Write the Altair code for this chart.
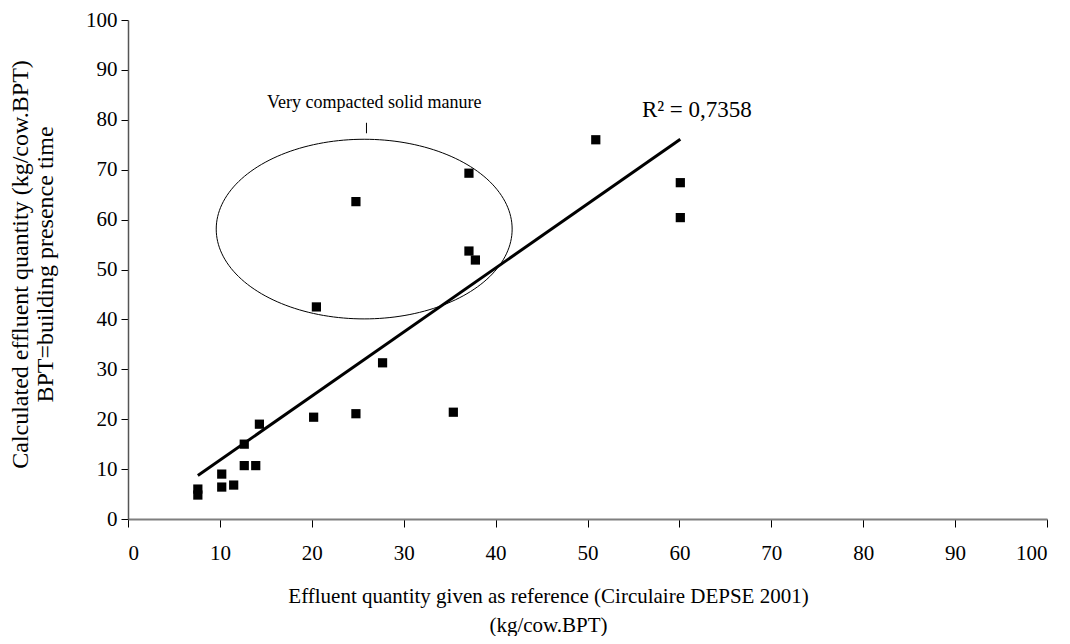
import altair as alt
import pandas as pd

# Data
ref_x = [7.6, 7.6, 10.2, 10.2, 11.5, 12.65, 13.9, 12.65, 14.3, 20.2, 24.8, 27.7, 35.4,
         37.1, 24.8, 37.1, 37.8, 20.5, 60.1, 60.1, 50.9]
calc_y = [6.0, 4.8, 9.0, 6.4, 6.8, 10.7, 10.7, 15.0, 19.0, 20.4, 21.1, 31.3, 21.4,
          69.3, 63.6, 53.7, 51.9, 42.5, 67.4, 60.4, 76.0]

# Annotations
ellipse_center = [25.7, 58.1]
ellipse_radii = [16.1, 18.0]
note_text = ["Very compacted solid manure"]
note_pos = [26.8, 83.4]
note_tick = [25.95, 77.3, 79.4]
r2_text = ["R\u00b2 = 0,7358"]
r2_pos = [61.9, 82.0]

FONT = "Liberation Serif"

df = pd.DataFrame({"x": ref_x, "y": calc_y})

xs = alt.Scale(domain=[0, 100], nice=False)
ys = alt.Scale(domain=[0, 100], nice=False)

x_axis = alt.Axis(values=list(range(0, 101, 10)), grid=False, tickSize=8,
                  labelFontSize=21, labelPadding=15, labelFont=FONT, labelColor="black",
                  domainColor="#7f7f7f", domainWidth=2, tickColor="black",
                  title=["Effluent quantity given as reference (Circulaire DEPSE 2001)",
                         "(kg/cow.BPT)"],
                  titleFont=FONT, titleFontSize=21, titleFontWeight="normal",
                  titleColor="black", titleLineHeight=29,
                  titleX=420, titleY=77, titleAlign="center", titleBaseline="middle")
y_axis = alt.Axis(values=list(range(0, 101, 10)), grid=False, tickSize=7,
                  labelFontSize=21, labelPadding=4, labelFont=FONT, labelColor="black",
                  domainColor="#555555", domainWidth=1.5, tickColor="black",
                  title=["Calculated effluent quantity (kg/cow.BPT)",
                         "BPT=building presence time"],
                  titleFont=FONT, titleFontSize=24, titleFontWeight="normal",
                  titleColor="black", titleLineHeight=25,
                  titleX=-108, titleY=244, titleAngle=-90, titleAlign="center",
                  titleBaseline="middle")

points = alt.Chart(df).mark_square(size=85, color="black", opacity=1).encode(
    x=alt.X("x:Q", scale=xs, axis=x_axis),
    y=alt.Y("y:Q", scale=ys, axis=y_axis),
)

trend = alt.Chart(df).transform_regression("x", "y").mark_line(
    color="black", strokeWidth=3).encode(
    x=alt.X("x:Q", scale=xs), y=alt.Y("y:Q", scale=ys))

ellipse = alt.Chart(alt.sequence(0, 361, 2, as_="deg")).transform_calculate(
    ex=f"{ellipse_center[0]} + {ellipse_radii[0]} * cos(datum.deg * PI / 180)",
    ey=f"{ellipse_center[1]} + {ellipse_radii[1]} * sin(datum.deg * PI / 180)",
).mark_line(color="black", strokeWidth=1).encode(
    x=alt.X("ex:Q", scale=xs), y=alt.Y("ey:Q", scale=ys), order="deg:Q")

note_df = pd.DataFrame({"x": [note_pos[0]], "y": [note_pos[1]], "t": note_text})
note = alt.Chart(note_df).mark_text(font=FONT, fontSize=18, color="black",
                                    baseline="middle", align="center").encode(
    x=alt.X("x:Q", scale=xs), y=alt.Y("y:Q", scale=ys), text="t:N")

tick_df = pd.DataFrame({"x": [note_tick[0]], "y": [note_tick[1]], "y2": [note_tick[2]]})
tick = alt.Chart(tick_df).mark_rule(color="black", strokeWidth=1).encode(
    x=alt.X("x:Q", scale=xs), y=alt.Y("y:Q", scale=ys), y2="y2:Q")

r2_df = pd.DataFrame({"x": [r2_pos[0]], "y": [r2_pos[1]], "t": r2_text})
r2 = alt.Chart(r2_df).mark_text(font=FONT, fontSize=23, color="black",
                                baseline="middle", align="center").encode(
    x=alt.X("x:Q", scale=xs), y=alt.Y("y:Q", scale=ys), text="t:N")

chart = alt.layer(ellipse, trend, points, tick, note, r2).properties(
    width=919, height=499,
    padding={"left": 120, "top": 12, "right": 15, "bottom": 117},
    autosize="none",
    background="white",
).configure_view(stroke=None)

chart.save("out.html", embed_options={"renderer": "svg", "actions": False})
